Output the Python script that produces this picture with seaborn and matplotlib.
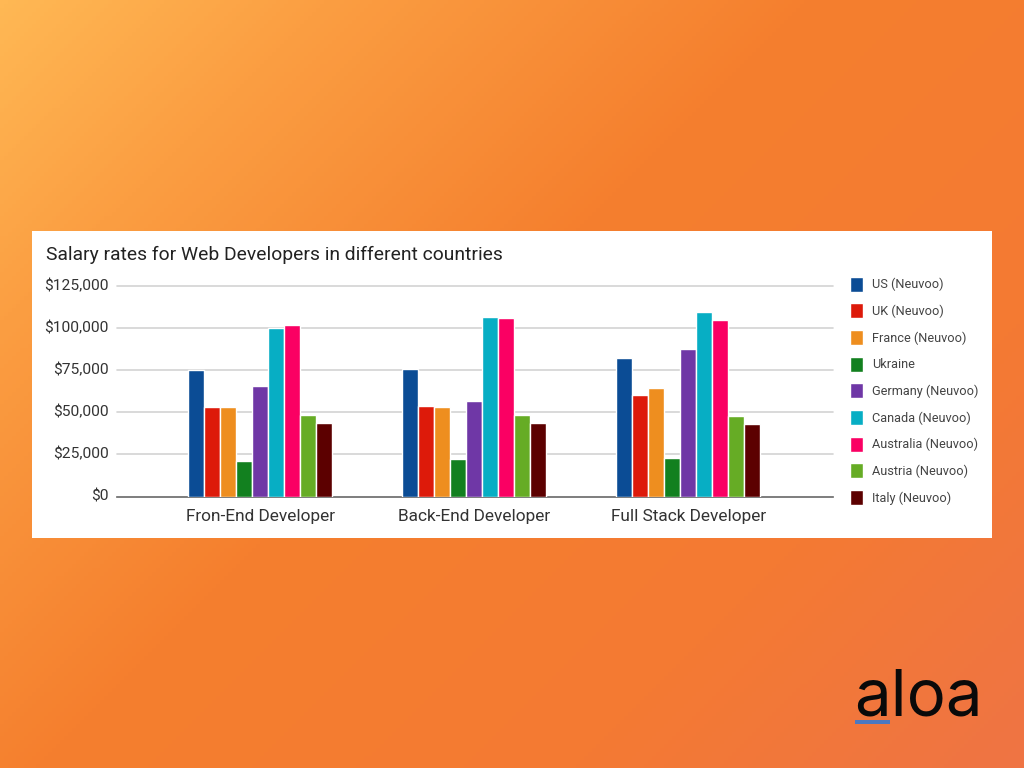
import numpy as np
import pandas as pd
import matplotlib
matplotlib.use("Agg")
import matplotlib.pyplot as plt
from matplotlib.colors import LinearSegmentedColormap
from matplotlib.patches import Rectangle
from matplotlib.ticker import FuncFormatter
from matplotlib.transforms import ScaledTranslation
import seaborn as sns

roles = ["Fron-End Developer", "Back-End Developer", "Full Stack Developer"]
us = [75000, 75700, 82300]
uk = [53000, 53700, 60200]
france = [53000, 53000, 64500]
ukraine = [21000, 22300, 22700]
germany = [65500, 56700, 87300]
canada = [100000, 106500, 109400]
australia = [101500, 105500, 104500]
austria = [48500, 48000, 47600]
italy = [43500, 43500, 43200]

countries = ["US (Neuvoo)", "UK (Neuvoo)", "France (Neuvoo)", "Ukraine", "Germany (Neuvoo)",
             "Canada (Neuvoo)", "Australia (Neuvoo)", "Austria (Neuvoo)", "Italy (Neuvoo)"]
series = [us, uk, france, ukraine, germany, canada, australia, austria, italy]
colors = ["#0B4C95", "#DD1A0A", "#EE8E1F", "#12801F", "#6F37A6",
          "#07AEC4", "#FA0063", "#66AC25", "#5C0000"]
yticks = [0, 25000, 50000, 75000, 100000, 125000]

W, H = 1024, 768
df = pd.DataFrame({
    "role": [r for _ in countries for r in roles],
    "country": [c for c in countries for _ in roles],
    "salary": [v for s in series for v in s],
})

sns.set_theme(style="white")
plt.rcParams["font.family"] = ["Roboto", "DejaVu Sans"]
fig = plt.figure(figsize=(W / 100, H / 100), dpi=100)

# page background
bg = fig.add_axes([0, 0, 1, 1], zorder=0)
bg.axis("off")
cmap = LinearSegmentedColormap.from_list(
    "page", [(0, "#FFB854"), (0.18, "#FB9E42"), (0.45, "#F57F2E"), (0.75, "#F47A33"), (1, "#EF7444")])
yy, xx = np.mgrid[0:1:192j, 0:1:256j]
bg.imshow((xx * 0.57 + yy * 0.43), cmap=cmap, vmin=0, vmax=1, aspect="auto", extent=[0, 1, 1, 0])
bg.add_patch(Rectangle((32 / W, 231 / H), 960 / W, 307 / H, color="white", lw=0))
bg.set_xlim(0, 1)
bg.set_ylim(1, 0)

# chart
ax = fig.add_axes([117 / W, 1 - 496.5 / H, 716 / W, 211 / H], zorder=1)
ax.patch.set_alpha(0)
sns.barplot(data=df, x="role", y="salary", hue="country", palette=colors, width=0.673, gap=0.04,
            saturation=1, errorbar=None, ax=ax, zorder=3)
ax.set_xlim(-0.669, 2.677)
ax.set_ylim(0, 125000)
ax.set_yticks(yticks)
ax.yaxis.set_major_formatter(FuncFormatter(lambda v, _: f"${v:,.0f}"))
ax.set_xlabel("")
ax.set_ylabel("")
ax.grid(axis="y", color="#D3D3D3", lw=1.2, zorder=0, clip_on=False)
ax.set_axisbelow(True)
for name, spine in ax.spines.items():
    spine.set_visible(name == "bottom")
ax.spines["bottom"].set_color("#6E6E6E")
ax.spines["bottom"].set_linewidth(1.2)
ax.tick_params(axis="both", length=0, colors="#333333")
ax.tick_params(axis="y", labelsize=11.15, pad=5.8)
ax.tick_params(axis="x", labelsize=12.4, pad=9.2)
for lab in ax.get_yticklabels():
    lab.set_transform(lab.get_transform() + ScaledTranslation(0, 0.8 / 72, fig.dpi_scale_trans))

fig.text(46 / W, 1 - 255 / H, "Salary rates for Web Developers in different countries",
         fontsize=13.85, color="#222222", va="center", ha="left")

handles, labels = ax.get_legend_handles_labels()
leg = ax.legend(handles, labels, loc="upper left", bbox_to_anchor=(850 / W, 1 - 276.5 / H),
                bbox_transform=fig.transFigure, frameon=False, fontsize=9.2, borderpad=0, borderaxespad=0,
                handlelength=1.02, handleheight=1.43, handletextpad=0.7, labelspacing=0.915)
for t in leg.get_texts():
    t.set_color("#444444")

# logo
fig.text(918 / W, 1 - 716 / H, "aloa", fontsize=47, family="Inter", color="#0A0A0A", ha="center", va="baseline")
bg.add_patch(Rectangle((855 / W, 720 / H), 35 / W, 3.5 / H, color="#4C78C0", lw=0))

fig.savefig("out.png", dpi=100)
